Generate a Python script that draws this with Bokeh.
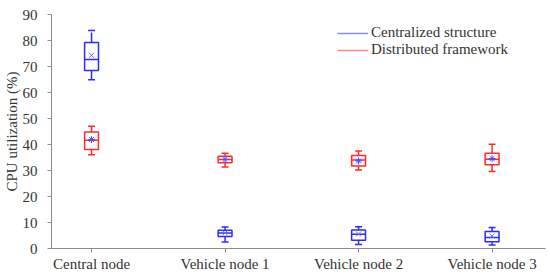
from bokeh.plotting import figure
from bokeh.models import Range1d, ColumnDataSource, Legend, LegendItem, FixedTicker
from bokeh.transform import dodge
from bokeh.embed import file_html
from bokeh.resources import INLINE

categories = ["Central node", "Vehicle node 1", "Vehicle node 2", "Vehicle node 3"]
yticks = [0, 10, 20, 30, 40, 50, 60, 70, 80, 90]

# Centralized structure
cen_lo = [64.9, 2.5, 1.5, 1.3]
cen_q1 = [68.5, 4.6, 3.2, 2.6]
cen_med = [72.7, 6.0, 5.5, 4.2]
cen_q3 = [79.2, 7.0, 7.1, 6.5]
cen_hi = [83.8, 8.3, 8.4, 8.1]
cen_mean = [74.3, 6.0, 5.6, 4.8]

# Distributed framework
dis_lo = [36.1, 31.3, 30.2, 29.6]
dis_q1 = [38.1, 33.0, 31.7, 32.2]
dis_med = [41.6, 34.2, 34.0, 34.3]
dis_q3 = [44.8, 35.5, 35.8, 36.6]
dis_hi = [47.0, 36.6, 37.5, 40.1]
dis_mean = [41.9, 34.3, 33.7, 34.6]

xs = [i + 1 for i in range(len(categories))]
FONT = "'Liberation Serif', 'Times New Roman', Times, serif"
FS = "15px"

p = figure(width=550, height=275, x_range=Range1d(0.7, 4.4), y_range=Range1d(0, 90),
           output_backend="svg", toolbar_location=None,
           min_border_left=49, min_border_right=5, min_border_top=14, min_border_bottom=27)
p.outline_line_color = None
p.grid.visible = False
p.background_fill_color = "white"

ax_col = "#8c8c8c"
for ax in (p.xaxis, p.yaxis):
    ax.axis_line_color = ax_col
    ax.major_tick_line_color = ax_col
    ax.minor_tick_line_color = None
    ax.major_tick_in = 0
    ax.major_tick_out = 4
    ax.major_label_text_font = FONT
    ax.major_label_text_font_size = FS
    ax.major_label_text_color = "#333333"

p.xaxis.ticker = FixedTicker(ticks=xs)
p.xaxis.major_label_overrides = {x: c for x, c in zip(xs, categories)}
p.xaxis.major_label_standoff = 3

p.yaxis.ticker = FixedTicker(ticks=yticks)
p.yaxis.major_label_standoff = 10
p.yaxis.axis_label = "CPU utilization (%)"
p.yaxis.axis_label_text_font = FONT
p.yaxis.axis_label_text_font_size = FS
p.yaxis.axis_label_text_font_style = "normal"
p.yaxis.axis_label_text_color = "#333333"
p.yaxis.axis_label_standoff = 0

BW = 0.104
CW = 0.026


def draw(lo, q1, med, q3, hi, mean, color, mean_marker, mean_color):
    src = ColumnDataSource(dict(x=xs, lo=lo, q1=q1, med=med, q3=q3, hi=hi, mean=mean))
    p.segment(x0="x", y0="q3", x1="x", y1="hi", source=src, line_color=color, line_width=1.5, line_dash="10 3")
    p.segment(x0="x", y0="q1", x1="x", y1="lo", source=src, line_color=color, line_width=1.5, line_dash="10 3")
    p.segment(x0=dodge("x", -CW), y0="hi", x1=dodge("x", CW), y1="hi", source=src, line_color=color, line_width=1.5)
    p.segment(x0=dodge("x", -CW), y0="lo", x1=dodge("x", CW), y1="lo", source=src, line_color=color, line_width=1.5)
    p.vbar(x="x", width=BW, bottom="q1", top="q3", source=src, fill_color=None, line_color=color, line_width=1.5)
    p.segment(x0=dodge("x", -BW / 2), y0="med", x1=dodge("x", BW / 2), y1="med", source=src, line_color=color, line_width=1.5)
    p.scatter(x="x", y="mean", source=src, marker=mean_marker, size=7, line_color=mean_color, line_width=1)


draw(cen_lo, cen_q1, cen_med, cen_q3, cen_hi, cen_mean, "#2b2bff", "x", "#6a6aff")
draw(dis_lo, dis_q1, dis_med, dis_q3, dis_hi, dis_mean, "#ff2b2b", "asterisk", "#4a4aff")

nan = float("nan")
r1 = p.line(x=[nan], y=[nan], line_color="#8a8aff", line_width=1.5)
r2 = p.line(x=[nan], y=[nan], line_color="#ff8a8a", line_width=1.5)
legend = Legend(items=[LegendItem(label="Centralized structure", renderers=[r1]),
                       LegendItem(label="Distributed framework", renderers=[r2])],
                location=(286, 190), glyph_width=31, glyph_height=16, label_height=16,
                spacing=0, padding=0, margin=0, border_line_color=None,
                background_fill_alpha=0, label_text_font=FONT, label_text_font_size=FS,
                label_text_color="#333333", label_standoff=3)
p.add_layout(legend)

open("out.html", "w").write(file_html(p, INLINE))
